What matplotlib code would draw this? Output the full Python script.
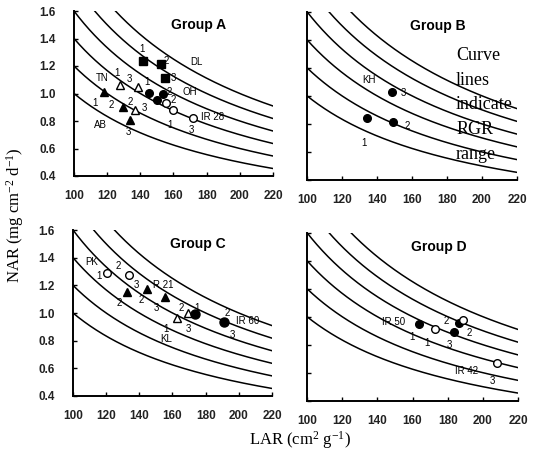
import numpy as np
import matplotlib
matplotlib.use('Agg')
import matplotlib.pyplot as plt

plt.rcParams['mathtext.fontset'] = 'custom'
plt.rcParams['mathtext.rm'] = 'Liberation Serif'
plt.rcParams['mathtext.it'] = 'Liberation Serif:italic'

# iso-RGR lines: NAR = RGR / LAR
rgr_levels = [100, 120, 140, 160, 180, 200]

# ---- Group A ----
a_dl_lar = [141.4, 152.5, 154.9]          # filled squares
a_dl_nar = [1.239, 1.215, 1.110]
a_oh_lar = [145.4, 153.9, 149.9]          # filled circles
a_oh_nar = [1.006, 0.996, 0.953]
a_ir28_lar = [155.5, 159.9, 172.0]        # open circles
a_ir28_nar = [0.933, 0.880, 0.820]
a_tn_lar = [127.7, 138.8, 136.8]          # open triangles
a_tn_nar = [1.062, 1.050, 0.880]
a_ab_lar = [118.1, 129.7, 133.8]          # filled triangles
a_ab_nar = [1.013, 0.904, 0.807]

# ---- Group B ----
b_kh_lar = [134.5, 149.3, 148.4]          # filled circles
b_kh_nar = [0.840, 0.816, 1.030]

# ---- Group C ----
c_pk_lar = [120.8, 133.5]                 # open circles
c_pk_nar = [1.287, 1.277]
c_r21_lar = [132.5, 144.9, 155.5]         # filled triangles
c_r21_nar = [1.154, 1.171, 1.118]
c_kl_lar = [162.8, 169.5]                 # open triangles
c_kl_nar = [0.962, 0.998]
c_ir60_lar = [173.3, 191.3]               # filled circles
c_ir60_nar = [0.991, 0.938]

# ---- Group D ----
d_ir50_lar = [163.8, 186.6, 183.5]        # filled circles
d_ir50_nar = [0.948, 0.957, 0.893]
d_ir42_lar = [173.0, 188.7, 208.1]        # open circles
d_ir42_nar = [0.910, 0.976, 0.671]

# text labels (text, LAR, NAR)
a_labels = [('1', 140.8, 1.321), ('2', 155.9, 1.239), ('3', 159.9, 1.111), ('DL', 174.0, 1.231),
            ('1', 143.8, 1.086), ('2', 157.5, 1.013), ('OH', 170.0, 1.013), ('2', 159.9, 0.953),
            ('IR 28', 183.8, 0.831), ('1', 157.9, 0.771), ('3', 171.0, 0.735), ('TN', 116.7, 1.110),
            ('1', 125.8, 1.147), ('3', 133.4, 1.103), ('1', 112.7, 0.931), ('2', 122.7, 0.916),
            ('2', 133.8, 0.940), ('3', 142.2, 0.892), ('AB', 115.7, 0.771), ('3', 132.8, 0.722)]
b_labels = [('KH', 135.6, 1.113), ('3', 155.0, 1.018), ('2', 157.3, 0.785), ('1', 132.6, 0.662)]
c_labels = [('PK', 111.3, 1.371), ('2', 127.4, 1.340), ('1', 115.9, 1.267), ('3', 138.1, 1.202),
            ('2', 128.0, 1.070), ('2', 140.9, 1.094), ('R 21', 154.2, 1.202), ('3', 150.2, 1.034),
            ('2', 165.5, 1.035), ('1', 156.1, 0.886), ('KL', 156.1, 0.809), ('3', 169.5, 0.883),
            ('1', 174.8, 1.035), ('2', 193.3, 0.998), ('IR 60', 205.5, 0.940), ('3', 196.4, 0.844)]
d_labels = [('IR 50', 149.1, 0.964), ('2', 179.4, 0.971), ('2', 192.3, 0.886), ('1', 159.5, 0.853),
            ('1', 168.4, 0.814), ('3', 181.0, 0.798), ('IR 42', 190.7, 0.614), ('3', 205.5, 0.543)]

xticks = [100, 120, 140, 160, 180, 200, 220]
yticks = [0.4, 0.6, 0.8, 1.0, 1.2, 1.4, 1.6]

W, H = 534, 457
fig = plt.figure(figsize=(W / 100, H / 100), dpi=100)
fig.patch.set_facecolor('white')


def px_axes(l, r, t, b):
    return fig.add_axes([l / W, 1 - b / H, (r - l) / W, (b - t) / H])


def setup(ax, title, ylabels):
    lar = np.linspace(100, 220, 300)
    for k in rgr_levels:
        ax.plot(lar, k / lar, color='black', lw=1.1, zorder=1)
    ax.set_xlim(100, 220)
    ax.set_ylim(0.4, 1.6)
    ax.set_xticks(xticks)
    ax.set_yticks(yticks)
    ax.set_xticklabels([str(v) for v in xticks], fontsize=8.5, fontweight='bold',
                       family='Liberation Sans', color='#222222')
    if ylabels:
        ax.set_yticklabels([f'{v:.1f}' for v in yticks], fontsize=8.5, fontweight='bold',
                           family='Liberation Sans', color='#222222')
    else:
        ax.set_yticklabels([])
    ax.tick_params(direction='in', length=3, width=1)
    ax.tick_params(axis='x', pad=10)
    ax.tick_params(axis='y', pad=13)
    for s in ['top', 'right']:
        ax.spines[s].set_visible(False)
    for s in ['left', 'bottom']:
        ax.spines[s].set_linewidth(1.4)
    ax.text(175, 1.5, title, fontsize=10, fontweight='bold', family='Liberation Sans',
            ha='center', va='center')


def labels(ax, items):
    for t, x, y in items:
        ax.text(x, y, t, fontsize=7, family='Liberation Sans', ha='center', va='center', zorder=4)


def pts(ax, x, y, marker, filled, size=5.5):
    ax.plot(x, y, linestyle='none', marker=marker, markersize=size,
            markerfacecolor='black' if filled else 'white', markeredgecolor='black',
            markeredgewidth=1, zorder=3)


axA = px_axes(74, 273, 11, 176)
setup(axA, 'Group A', True)
pts(axA, a_dl_lar, a_dl_nar, 's', True)
pts(axA, a_oh_lar, a_oh_nar, 'o', True)
pts(axA, a_ir28_lar, a_ir28_nar, 'o', False)
pts(axA, a_tn_lar, a_tn_nar, '^', False)
pts(axA, a_ab_lar, a_ab_nar, '^', True)
labels(axA, a_labels)

axB = px_axes(307, 517, 11.7, 180)
setup(axB, 'Group B', False)
pts(axB, b_kh_lar, b_kh_nar, 'o', True)
labels(axB, b_labels)
for i, w in enumerate(['Curve', 'lines', 'indicate', 'RGR', 'range']):
    axB.text(0.71, 0.74 - i * 0.147, w, transform=axB.transAxes, fontsize=13,
             family='Liberation Serif', ha='left', va='center', zorder=5)

axC = px_axes(73, 272, 230, 396)
setup(axC, 'Group C', True)
pts(axC, c_pk_lar, c_pk_nar, 'o', False)
pts(axC, c_r21_lar, c_r21_nar, '^', True)
pts(axC, c_kl_lar, c_kl_nar, '^', False)
pts(axC, c_ir60_lar, c_ir60_nar, 'o', True, 6.5)
labels(axC, c_labels)

axD = px_axes(307, 518, 232.7, 400.7)
setup(axD, 'Group D', False)
pts(axD, d_ir50_lar, d_ir50_nar, 'o', True)
pts(axD, d_ir42_lar, d_ir42_nar, 'o', False)
labels(axD, d_labels)

fig.text(15 / W, 1 - 215 / H, 'NAR (mg cm$^{-2}$ d$^{-1}$)', rotation=90, fontsize=12,
         family='Liberation Serif', ha='center', va='center')
fig.text(300 / W, 1 - 440 / H, 'LAR (cm$^{2}$ g$^{-1}$)', fontsize=12,
         family='Liberation Serif', ha='center', va='center')

fig.savefig('out.png', dpi=100)
